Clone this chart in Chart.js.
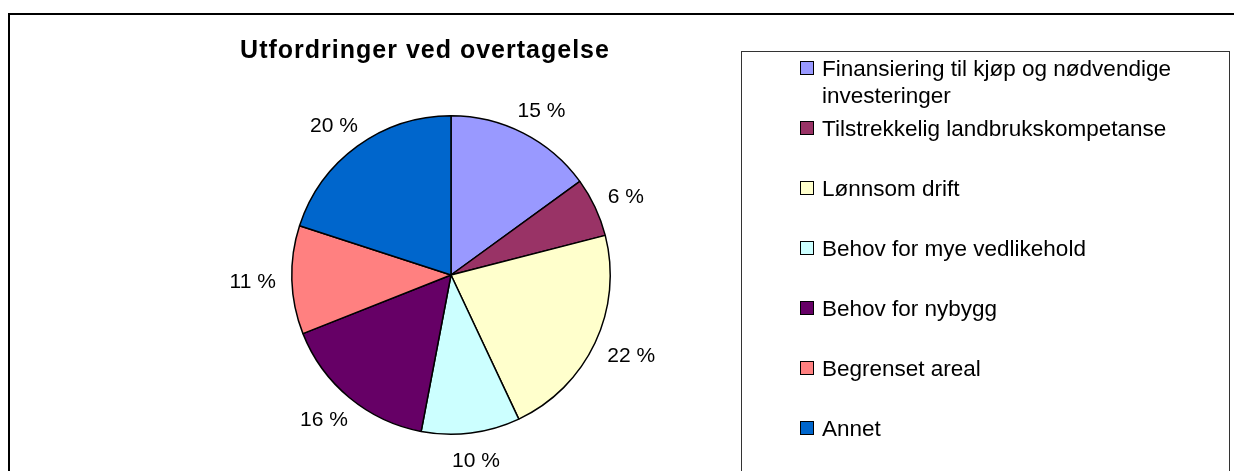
<!DOCTYPE html>
<html>
<head>
<meta charset="utf-8">
<script src="https://cdn.jsdelivr.net/npm/chart.js@4/dist/chart.umd.min.js"></script>
<style>
  html, body { margin: 0; padding: 0; background: #fff; }
  canvas { display: block; }
</style>
</head>
<body>
<canvas id="pieChart" width="1234" height="471"></canvas>
<script>
// Chart data
const chartTitle = 'Utfordringer ved overtagelse';
const categories = [
    'Finansiering til kjøp og nødvendige investeringer',
    'Tilstrekkelig landbrukskompetanse',
    'Lønnsom drift',
    'Behov for mye vedlikehold',
    'Behov for nybygg',
    'Begrenset areal',
    'Annet'
];
const shares = [15, 6, 22, 10, 16, 11, 20];
const sliceColors = ['#9999FF', '#993366', '#FFFFCC', '#CCFFFF', '#660066', '#FF8080', '#0066CC'];

const FONT = '"Liberation Sans", Arial, sans-serif';

// Outer frame and title
const framePlugin = {
    id: 'frame',
    beforeDraw(chart) {
        const ctx = chart.ctx;
        ctx.save();
        ctx.fillStyle = '#fff';
        ctx.fillRect(0, 0, chart.width, chart.height);
        ctx.strokeStyle = '#000';
        ctx.lineWidth = 2;
        ctx.strokeRect(9, 14, chart.width + 20, chart.height + 20);

        ctx.font = 'bold 25px ' + FONT;
        ctx.letterSpacing = '1px';
        ctx.fillStyle = '#000';
        ctx.textAlign = 'center';
        ctx.textBaseline = 'alphabetic';
        ctx.fillText(chartTitle, 425, 58);
        ctx.restore();
    }
};

// Percentage labels outside each slice
const sliceLabels = {
    id: 'sliceLabels',
    afterDatasetsDraw(chart) {
        const ctx = chart.ctx;
        const meta = chart.getDatasetMeta(0);
        const size = 21;
        ctx.save();
        ctx.font = size + 'px ' + FONT;
        ctx.fillStyle = '#000';
        ctx.textAlign = 'center';
        ctx.textBaseline = 'alphabetic';
        meta.data.forEach((arc, i) => {
            const text = shares[i] + ' %';
            const w = ctx.measureText(text).width;
            const mid = (arc.startAngle + arc.endAngle) / 2;
            const dx = Math.cos(mid), dy = Math.sin(mid);
            const r = arc.outerRadius + 16;
            const cx = arc.x + dx * r + dx * w / 2;
            const cy = arc.y + dy * r + dy * size / 2;
            ctx.fillText(text, cx, cy + size * 0.716 / 2);
        });
        ctx.restore();
    }
};

// Boxed legend on the right
const boxLegend = {
    id: 'boxLegend',
    afterDraw(chart) {
        const ctx = chart.ctx;
        const size = 22.5;
        const textX = 822;
        const maxW = 380;
        ctx.save();
        ctx.strokeStyle = '#333';
        ctx.lineWidth = 1;
        ctx.strokeRect(741.5, 51.5, 488, 440);

        ctx.font = size + 'px ' + FONT;
        ctx.textAlign = 'left';
        ctx.textBaseline = 'alphabetic';
        const labels = chart.data.labels;
        const colors = chart.data.datasets[0].backgroundColor;
        labels.forEach((label, i) => {
            const yc = 68 + i * 60;
            // wrap words
            const lines = [];
            let cur = '';
            label.split(' ').forEach(word => {
                const test = cur ? cur + ' ' + word : word;
                if (cur && ctx.measureText(test).width > maxW) {
                    lines.push(cur);
                    cur = word;
                } else {
                    cur = test;
                }
            });
            lines.push(cur);

            ctx.fillStyle = colors[i];
            ctx.fillRect(800.5, yc - 6.5, 13, 13);
            ctx.strokeStyle = '#000';
            ctx.lineWidth = 1;
            ctx.strokeRect(800.5, yc - 6.5, 13, 13);

            ctx.fillStyle = '#000';
            lines.forEach((ln, j) => {
                ctx.fillText(ln, textX, yc + j * 27 + size * 0.716 / 2);
            });
        });
        ctx.restore();
    }
};

const ctx = document.getElementById('pieChart').getContext('2d');
const pieChart = new Chart(ctx, {
    type: 'pie',
    data: {
        labels: categories,
        datasets: [{
            data: shares,
            backgroundColor: sliceColors,
            borderColor: '#000',
            borderWidth: 1.5,
            hoverOffset: 0
        }]
    },
    options: {
        responsive: false,
        animation: false,
        layout: {
            padding: { left: 291, right: 623, top: 115, bottom: 36 }
        },
        plugins: {
            title: { display: false },
            legend: { display: false },
            tooltip: { enabled: false }
        }
    },
    plugins: [framePlugin, sliceLabels, boxLegend]
});
</script>
</body>
</html>
